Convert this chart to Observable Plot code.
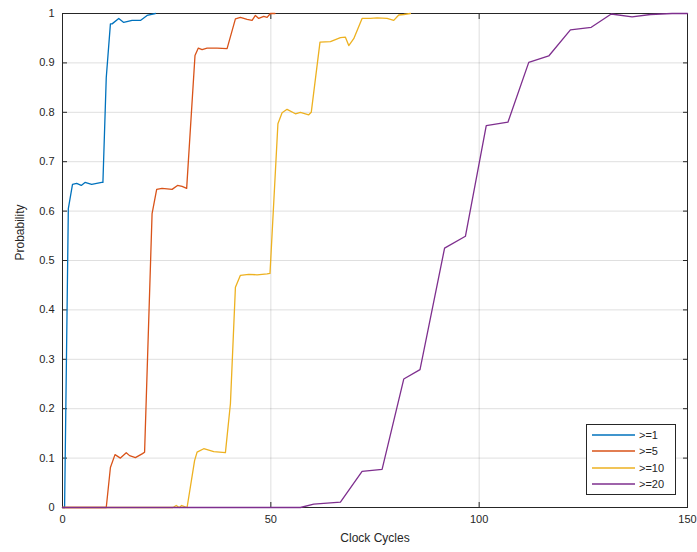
<!DOCTYPE html>
<html><head><meta charset="utf-8">
<script src="https://cdn.jsdelivr.net/npm/d3@7"></script>
<script src="https://cdn.jsdelivr.net/npm/@observablehq/plot@0.6"></script>
<style>
body{margin:0;background:#fff;}
#wrap{position:relative;width:697px;height:552px;font-family:"Liberation Sans",Arial,Helvetica,sans-serif;}
#legend{position:absolute;left:586px;top:424px;width:88px;height:69px;border:1px solid #262626;background:#fff;}
</style>
</head><body><div id="wrap"></div>
<script>
const seriesNames = [">=1", ">=5", ">=10", ">=20"];
const seriesColors = ["#0072BD", "#D95319", "#EDB120", "#7E2F8E"];
const xTicks = [0, 50, 100, 150];
const yTicks = [0, 0.1, 0.2, 0.3, 0.4, 0.5, 0.6, 0.7, 0.8, 0.9, 1];
const xLabel = "Clock Cycles";
const yLabel = "Probability";

const cycles1 = [0, 0.5, 1.4, 2.4, 3.4, 4.5, 5.4, 7.0, 9.4, 9.7, 10.5, 11.5, 11.9, 13.5, 14.7, 16.7, 18.7, 20.3, 22.3];
const prob1   = [0, 0, 0.605, 0.654, 0.656, 0.652, 0.658, 0.654, 0.658, 0.658, 0.87, 0.979, 0.979, 0.99, 0.982, 0.986, 0.986, 0.996, 1];

const cycles5 = [0, 10.5, 11.5, 12.6, 13.9, 15.3, 16.1, 17.5, 19.2, 19.7, 21.5, 22.6, 23.9, 26.3, 27.6, 28.7, 29.8, 31.8, 32.6, 33.5, 34.7, 37.1, 39.5, 41.5, 42.7, 44.3, 45.5, 46.3, 47.1, 48.3, 49.1, 49.9, 51.0];
const prob5   = [0, 0, 0.081, 0.107, 0.1, 0.111, 0.105, 0.101, 0.109, 0.112, 0.595, 0.644, 0.646, 0.644, 0.652, 0.65, 0.646, 0.915, 0.93, 0.927, 0.93, 0.93, 0.929, 0.989, 0.992, 0.988, 0.986, 0.996, 0.99, 0.994, 0.992, 1, 1];

const cycles10 = [0, 26.5, 27.3, 28.0, 28.6, 29.9, 31.7, 32.3, 33.9, 36.3, 39.1, 40.3, 41.5, 42.7, 44.7, 46.7, 49.1, 49.8, 51.7, 52.7, 53.9, 55.9, 57.1, 59.1, 59.7, 61.8, 64.3, 66.7, 67.9, 68.7, 69.9, 71.9, 73.9, 75.5, 77.9, 79.5, 80.7, 81.9, 83.5];
const prob10   = [0, 0, 0.004, 0, 0.004, 0, 0.095, 0.112, 0.119, 0.113, 0.111, 0.21, 0.446, 0.47, 0.472, 0.471, 0.473, 0.474, 0.777, 0.799, 0.806, 0.797, 0.8, 0.795, 0.8, 0.942, 0.943, 0.951, 0.952, 0.935, 0.949, 0.99, 0.99, 0.991, 0.99, 0.986, 0.997, 0.998, 1];

const cycles20 = [0, 57.1, 60.3, 66.7, 71.9, 76.7, 81.9, 85.8, 91.7, 96.7, 101.7, 106.9, 111.9, 116.7, 121.9, 126.9, 131.7, 136.7, 141.1, 146.3, 150];
const prob20   = [0, 0, 0.007, 0.011, 0.073, 0.077, 0.26, 0.279, 0.525, 0.549, 0.773, 0.78, 0.901, 0.914, 0.967, 0.972, 0.999, 0.993, 0.998, 1, 1];

const allX = [cycles1, cycles5, cycles10, cycles20];
const allY = [prob1, prob5, prob10, prob20];
const rows = seriesNames.flatMap((name, i) => allX[i].map((x, j) => ({series: name, cycle: x, prob: allY[i][j]})));

const ink = "#262626";
const blank = () => "";
const chart = Plot.plot({
  width: 697,
  height: 552,
  marginLeft: 62,
  marginRight: 10,
  marginTop: 13,
  marginBottom: 45,
  style: {fontFamily: '"Liberation Sans", Arial, Helvetica, sans-serif', fontSize: "11px", color: ink, background: "#fff"},
  x: {domain: [0, 150]},
  y: {domain: [0, 1]},
  color: {domain: seriesNames, range: seriesColors},
  marks: [
    Plot.ruleX(xTicks, {stroke: ink, strokeOpacity: 0.15}),
    Plot.ruleY(yTicks, {stroke: ink, strokeOpacity: 0.15}),
    Plot.frame({stroke: ink}),
    Plot.axisX(xTicks, {anchor: "bottom", tickSize: -5, tickFormat: blank, label: null, stroke: ink}),
    Plot.axisX(xTicks, {anchor: "top", tickSize: -5, tickFormat: blank, label: null, stroke: ink}),
    Plot.axisY(yTicks, {anchor: "left", tickSize: -5, tickFormat: blank, label: null, stroke: ink}),
    Plot.axisY(yTicks, {anchor: "right", tickSize: -5, tickFormat: blank, label: null, stroke: ink}),
    Plot.axisX(xTicks, {anchor: "bottom", tickSize: 0, tickPadding: 8, label: null, fill: ink, fontSize: 11, tickFormat: d => String(d)}),
    Plot.axisY(yTicks, {anchor: "left", tickSize: 0, tickPadding: 8, label: null, fill: ink, fontSize: 11, tickFormat: d => String(d)}),
    Plot.line(rows, {x: "cycle", y: "prob", z: "series", stroke: "series", strokeWidth: 1.3}),
    Plot.text([xLabel], {text: d => d, frameAnchor: "bottom", dy: 34, fontSize: 12, fill: ink}),
    Plot.text([yLabel], {text: d => d, frameAnchor: "left", dx: -42, rotate: -90, fontSize: 12, fill: ink})
  ]
});
const wrap = document.getElementById("wrap");
wrap.appendChild(chart);

const legend = d3.select(wrap).append("div").attr("id", "legend");
const lsvg = legend.append("svg").attr("width", 88).attr("height", 69);
const rowY = [10, 26, 43, 59];
seriesNames.forEach((name, i) => {
  lsvg.append("line").attr("x1", 5).attr("x2", 48).attr("y1", rowY[i]).attr("y2", rowY[i])
    .attr("stroke", seriesColors[i]).attr("stroke-width", 1.3);
  lsvg.append("text").attr("x", 52).attr("y", rowY[i]).attr("dy", "0.35em")
    .attr("font-size", 11).attr("fill", ink)
    .attr("font-family", '"Liberation Sans", Arial, sans-serif').text(name);
});
</script>
</body></html>
